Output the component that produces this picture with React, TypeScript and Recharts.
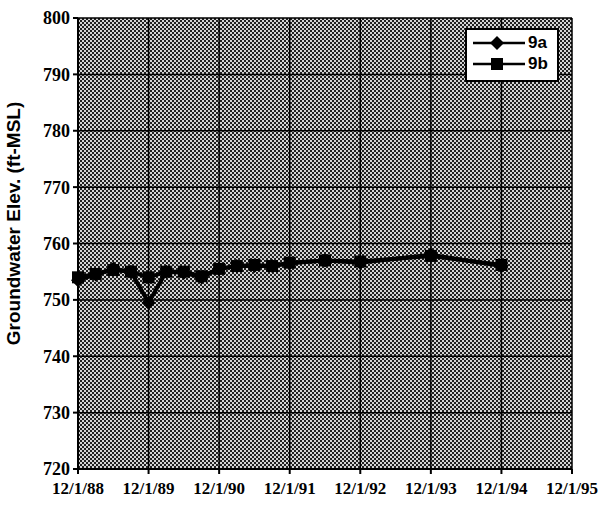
import { LineChart, Line, XAxis, YAxis, CartesianGrid } from 'recharts';

// x = years since 12/1/88
const xTickLabels = ['12/1/88', '12/1/89', '12/1/90', '12/1/91', '12/1/92', '12/1/93', '12/1/94', '12/1/95'];
const xTicks = [0, 1, 2, 3, 4, 5, 6, 7];
const yTicks = [720, 730, 740, 750, 760, 770, 780, 790, 800];

const times = [0, 0.25, 0.5, 0.75, 1.0, 1.25, 1.5, 1.75, 2.0, 2.25, 2.5, 2.75, 3.0, 3.5, 4.0, 5.0, 6.0];
const well9a = [753.5, 754.5, 755.5, 755, 749.5, 755, 754.8, 754, 755.5, 756, 756, 756, 756.5, 757, 756.6, 758, 756];
const well9b = [754, 754.6, 755.3, 755, 754, 755, 755, 754.2, 755.5, 756, 756.2, 756, 756.6, 757, 756.8, 757.8, 756.2];

const rows = times.map((t, i) => ({ t, a: well9a[i], b: well9b[i] }));

const xTickFont = { fontFamily: 'Liberation Serif', fontWeight: 'bold', fontSize: 17, fill: '#000' };
const yTickFont = { fontFamily: 'Liberation Serif', fontWeight: 'bold', fontSize: 18, fill: '#000' };

const Diamond = (props: any) => {
  const { cx, cy } = props;
  if (cx == null || cy == null) return null;
  return <path d={`M${cx},${cy - 7}L${cx + 7},${cy}L${cx},${cy + 7}L${cx - 7},${cy}Z`} fill="#000" />;
};

const Square = (props: any) => {
  const { cx, cy } = props;
  if (cx == null || cy == null) return null;
  return <rect x={cx - 6} y={cy - 6} width={12} height={12} fill="#000" />;
};

const legendItems = [
  { name: '9a', icon: <path d="M26,3L33,10L26,17L19,10Z" fill="#000" /> },
  { name: '9b', icon: <rect x={20} y={4} width={12} height={12} fill="#000" /> },
];

const LegendBox = () => (
  <div
    style={{
      position: 'absolute',
      left: 465,
      top: 28,
      width: 90,
      height: 46,
      background: '#fff',
      border: '2px solid #000',
      padding: '2px 0',
      fontFamily: 'Liberation Sans',
      fontWeight: 'bold',
      fontSize: 17,
    }}
  >
    {legendItems.map((e) => (
      <div key={e.name} style={{ display: 'flex', alignItems: 'center', height: 21 }}>
        <svg width={56} height={20} style={{ marginLeft: 4 }}>
          <line x1={2} y1={10} x2={54} y2={10} stroke="#000" strokeWidth={2.5} />
          {e.icon}
        </svg>
        <span style={{ marginLeft: 1 }}>{e.name}</span>
      </div>
    ))}
  </div>
);

export default function App() {
  return (
    <div style={{ position: 'absolute', left: 0, top: 0, width: 605, height: 508, background: '#fff' }}>
      <LineChart width={605} height={508} data={rows} margin={{ top: 18, right: 33, bottom: 0, left: 0 }}>
        <defs>
          <pattern id="hatch" width="4" height="4" patternUnits="userSpaceOnUse">
            <rect width="4" height="4" fill="#d4d4d4" />
            <rect x="0" y="0" width="2" height="2" fill="#202020" />
            <rect x="2" y="2" width="2" height="2" fill="#202020" />
          </pattern>
        </defs>
        <CartesianGrid stroke="#000" strokeWidth={1.5} fill="url(#hatch)" fillOpacity={1} />
        <XAxis
          type="number"
          dataKey="t"
          domain={[0, 7]}
          ticks={xTicks}
          tickFormatter={(v: number) => xTickLabels[v]}
          height={39}
          tick={xTickFont}
          tickSize={5}
          tickMargin={8}
          stroke="#000"
          strokeWidth={2}
          interval={0}
        />
        <YAxis
          type="number"
          domain={[720, 800]}
          ticks={yTicks}
          width={78}
          tick={yTickFont}
          tickSize={5}
          tickMargin={3}
          stroke="#000"
          strokeWidth={2}
          interval={0}
          label={{
            value: 'Groundwater Elev. (ft-MSL)',
            angle: -90,
            position: 'insideLeft',
            dx: 8,
            dy: -20,
            style: { textAnchor: 'middle', fontFamily: 'Liberation Sans', fontWeight: 'bold', fontSize: 19, fill: '#000' },
          }}
        />
        <Line
          dataKey="a"
          name="9a"
          stroke="#000"
          strokeWidth={4}
          dot={<Diamond />}
          isAnimationActive={false}
        />
        <Line
          dataKey="b"
          name="9b"
          stroke="#000"
          strokeWidth={4}
          dot={<Square />}
          isAnimationActive={false}
        />
      </LineChart>
      <LegendBox />
    </div>
  );
}
